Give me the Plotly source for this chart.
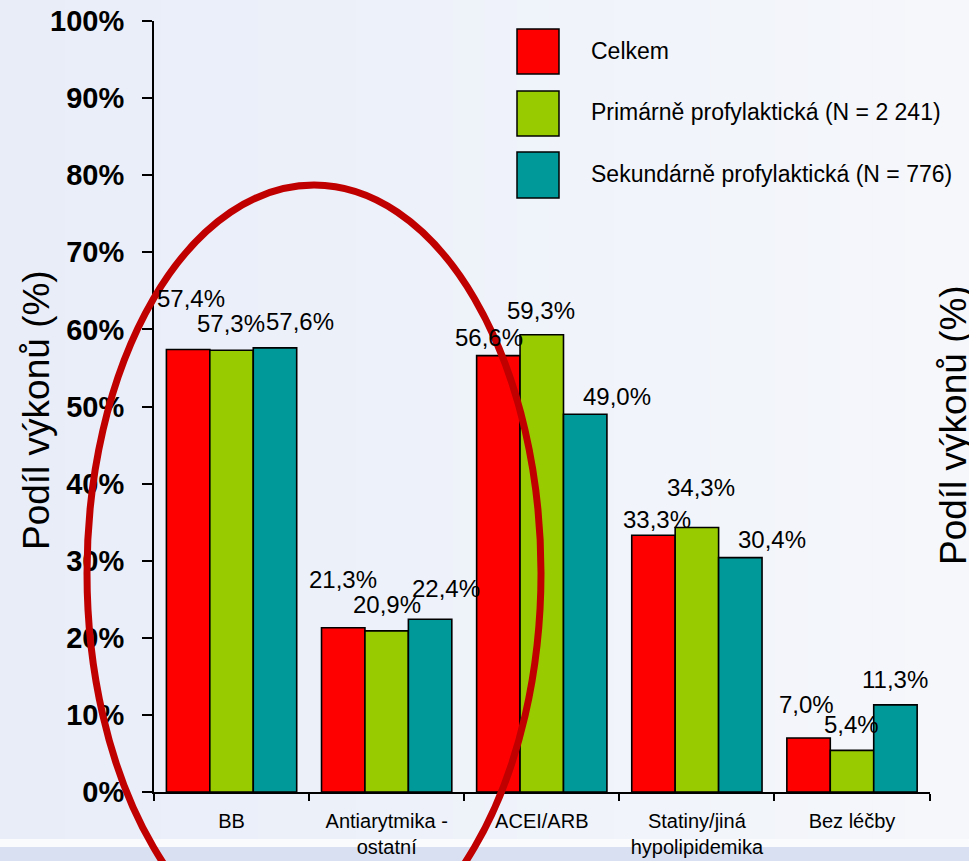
import plotly.graph_objects as go

# ---- data -------------------------------------------------------------
categories = ["BB", "Antiarytmika -<br>ostatní", "ACEI/ARB",
              "Statiny/jiná<br>hypolipidemika", "Bez léčby"]
series_names = ["Celkem",
                "Primárně profylaktická (N = 2 241)",
                "Sekundárně profylaktická (N = 776)"]
celkem = [57.4, 21.3, 56.6, 33.3, 7.0]
primarne = [57.3, 20.9, 59.3, 34.3, 5.4]
sekundarne = [57.6, 22.4, 49.0, 30.4, 11.3]
y_tick_values = [0, 10, 20, 30, 40, 50, 60, 70, 80, 90, 100]
y_tick_labels = [f"{v}%" for v in y_tick_values]
axis_title = "Podíl výkonů (%)"

# ---- style ------------------------------------------------------------
colors = ["#FF0000", "#99CC00", "#009999"]
FONT = "Arial, 'Liberation Sans', sans-serif"
W, H = 969, 861
L, R, T, B = 154, 39, 21, 69
PW, PH = W - L - R, H - T - B

# pixel offsets of the value labels from the top centre of each group
label_offsets = [
    [(-41, 51), (-44, 48), (-53, 18), (-40, 16), (-46, 34)],
    [(-1, 27), (0, 26), (-1, 24), (4, 40), (-1, 26)],
    [(68, 26), (59, 31), (75, 18), (75, 18), (43, 25)],
]


def px_x(p):
    return (p - L) / PW


def px_y(p):
    return (H - B - p) / PH


def fmt(v):
    return f"{v:.1f}%".replace(".", ",")


fig = go.Figure()
for name, vals, col in zip(series_names, [celkem, primarne, sekundarne], colors):
    fig.add_trace(go.Bar(
        x=categories, y=vals, name=name, marker_color=col,
        marker_line=dict(color="black", width=1.6), showlegend=False,
    ))

annotations = []
for s, vals in enumerate([celkem, primarne, sekundarne]):
    for i, v in enumerate(vals):
        dx, dy = label_offsets[s][i]
        annotations.append(dict(
            x=categories[i], y=v, xref="x", yref="y", text=fmt(v),
            showarrow=False, xanchor="center", yanchor="middle",
            xshift=dx, yshift=dy,
            font=dict(family=FONT, size=24, color="black"),
        ))

shapes = []
# slide background: soft horizontal gradient
n_strips = 30
c0, c1 = (232, 237, 248), (245, 247, 251)
for k in range(n_strips):
    t = k / (n_strips - 1)
    c = tuple(round(a + (b - a) * t) for a, b in zip(c0, c1))
    shapes.append(dict(type="rect", xref="paper", yref="paper",
                       x0=px_x(k * W / n_strips), x1=px_x((k + 1) * W / n_strips + 1),
                       y0=px_y(H + 5), y1=px_y(-5), layer="below",
                       line_width=0, fillcolor=f"rgb{c}"))
# bottom band of the slide
shapes.append(dict(type="rect", xref="paper", yref="paper",
                   x0=px_x(-5), x1=px_x(W + 5), y0=px_y(847), y1=px_y(839),
                   layer="below", line_width=0, fillcolor="#FAFBFD"))
shapes.append(dict(type="rect", xref="paper", yref="paper",
                   x0=px_x(-5), x1=px_x(W + 5), y0=px_y(H + 5), y1=px_y(847),
                   layer="below", line_width=0, fillcolor="#D9E0F1"))

# legend boxes
legend_rows = [(29, 74, 51), (91, 136, 112), (152, 198, 174)]
for (y0, y1, yc), name, col in zip(legend_rows, series_names, colors):
    shapes.append(dict(type="rect", xref="paper", yref="paper",
                       x0=px_x(517), x1=px_x(559), y0=px_y(y1), y1=px_y(y0),
                       line=dict(color="black", width=1.5), fillcolor=col))
    annotations.append(dict(x=px_x(589), y=px_y(yc), xref="paper", yref="paper",
                            text=name, showarrow=False, xanchor="left",
                            yanchor="middle",
                            font=dict(family=FONT, size=23, color="black")))

# highlight ellipse around the first two groups
shapes.append(dict(type="circle", xref="paper", yref="paper",
                   x0=px_x(87), x1=px_x(541), y0=px_y(961), y1=px_y(185),
                   line=dict(color="#C00000", width=7), layer="above"))

# axis titles (left and right)
annotations.append(dict(x=px_x(36), y=px_y(410), xref="paper", yref="paper",
                        text=axis_title, textangle=-90, showarrow=False,
                        xanchor="center", yanchor="middle",
                        font=dict(family=FONT, size=37, color="black")))
annotations.append(dict(x=px_x(953), y=px_y(425), xref="paper", yref="paper",
                        text=axis_title, textangle=-90, showarrow=False,
                        xanchor="center", yanchor="middle",
                        font=dict(family=FONT, size=37, color="black")))

fig.update_layout(
    width=W, height=H,
    margin=dict(l=L, r=R, t=T, b=B, pad=0, autoexpand=False),
    paper_bgcolor="#EDF1F9", plot_bgcolor="rgba(0,0,0,0)",
    barmode="group", bargap=0.16, bargroupgap=0,
    font=dict(family=FONT, color="black"),
    shapes=shapes, annotations=annotations,
    xaxis=dict(
        type="category", showline=True, linecolor="black", linewidth=2,
        ticks="outside", tickson="boundaries", ticklen=7, tickwidth=1.5,
        tickcolor="black", showgrid=False, zeroline=False, automargin=False,
        ticklabelstandoff=10,
        tickfont=dict(family=FONT, size=20, color="black"),
    ),
    yaxis=dict(
        range=[0, 100], tickmode="array", tickvals=y_tick_values,
        ticktext=y_tick_labels, showline=True, linecolor="black", linewidth=2,
        ticks="outside", ticklen=10, tickwidth=2, tickcolor="black",
        showgrid=False, zeroline=False, ticklabelstandoff=12, automargin=False,
        tickfont=dict(family=FONT, size=29, color="black", weight="bold"),
    ),
)

fig.write_html("out.html")
